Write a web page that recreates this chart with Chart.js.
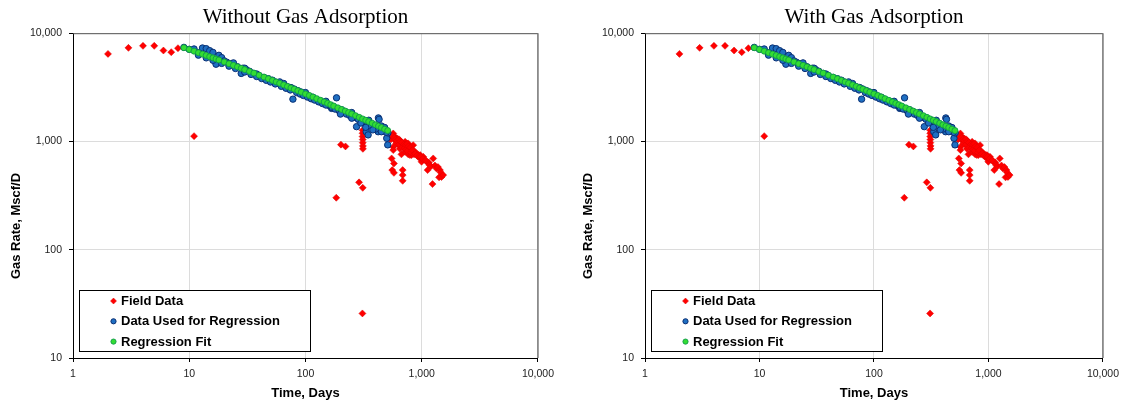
<!DOCTYPE html>
<html>
<head>
<meta charset="utf-8">
<script src="https://cdn.jsdelivr.net/npm/chart.js@4.4.1/dist/chart.umd.min.js"></script>
<style>
  body { margin: 0; background: #fff; width: 1125px; height: 403px; position: relative; overflow: hidden; }
  canvas { position: absolute; top: 0; }
  #left { left: 0; }
  #right { left: 572px; }
</style>
</head>
<body>
<canvas id="left" width="560" height="403"></canvas>
<canvas id="right" width="553" height="403"></canvas>
<script>
// axis setup
const tickValues = [1, 10, 100, 1000, 10000];
const xTitle = "Time, Days";
const yTitle = "Gas Rate, Mscf/D";

// field data (red diamonds), days and Mscf/D
const fieldDays = [2, 3, 4, 5, 6, 7, 8, 11,
  184, 202, 221, 289, 311, 309,
  310, 310, 310, 311, 311, 312, 312,
  509, 533, 540, 551, 558, 569, 569, 569, 577, 577, 589, 600, 612, 620, 629, 648, 648, 660, 669,
  686, 686, 686, 694, 694, 700, 720, 720, 742, 742, 760, 765, 765, 780, 792, 792, 818, 818, 845,
  850, 875, 900, 935, 935, 970, 970, 997, 1000, 1031, 1060, 1102, 1124, 1150, 1167, 1200, 1238,
  1256, 1300, 1339, 1380, 1410, 1435, 1450, 1480, 1530,
  525, 545, 560, 580, 595, 605, 615, 635, 640, 655, 675, 680, 705, 715, 730, 735, 750, 755, 770,
  800, 810, 830, 860, 880, 910, 960, 985, 1020, 1080];
const fieldRates = [6440, 7320, 7640, 7640, 6920, 6680, 7270, 1120,
  302, 935, 900, 419, 373, 25.8,
  1270, 1190, 1110, 1040, 975, 910, 855,
  1066, 1066, 1120, 697, 544, 1186, 891, 832, 627, 513, 1104, 1000, 1066, 950, 993, 1028, 857, 940, 760,
  544, 489, 433, 960, 891, 900, 993, 802, 891, 802, 870, 960, 760, 820, 832, 748, 857, 748, 925,
  790, 802, 780, 748, 721, 697, 748, 649, 700, 721, 680, 649, 544, 640, 605, 590, 404,
  697, 600, 564, 580, 466, 544, 520, 470, 489,
  1100, 1050, 1130, 1080, 1040, 960, 1020, 1050, 940, 1000, 980, 880, 940, 870, 930, 840, 950, 820, 900,
  880, 790, 830, 760, 770, 740, 730, 720, 690, 670];

// data used for regression (blue circles)
const regDays = [9, 10, 11, 12, 13, 14, 15, 16, 17, 18, 19, 20, 21, 22, 24, 26, 28, 29, 31, 33, 36, 38, 40,
  44, 48, 52, 56, 60, 65, 70, 75, 78, 80, 86, 92, 100, 108, 116, 125, 135, 145, 155, 160, 165, 168, 175,
  185, 190, 200, 205, 215, 220, 235, 245, 255, 265, 275, 280, 290, 300, 310, 320, 330, 333, 340, 346,
  355, 370, 385, 400, 415, 424, 430, 422, 440, 455, 470, 490, 500, 510, 512,
  12, 14, 16, 19, 22, 25, 30, 34, 38, 42, 46, 50, 55, 62, 68, 74, 84, 90, 96, 104, 112, 120, 130, 140,
  150, 170, 180, 195, 210, 225, 240, 260, 285, 305, 325, 345, 365, 390, 410, 435, 460, 475, 495,
  200, 250, 300, 350, 400, 450, 330, 380,
  30, 60, 100, 150, 250, 350, 450, 480];
const regRates = [7400, 7100, 7150, 6600, 7300, 7200, 6900, 6650, 5170, 6250, 5950, 5550, 5400, 5250, 5320, 4900, 4250, 4750, 4600, 4450, 4250, 4200, 4050,
  3900, 3800, 3680, 3520, 3420, 3430, 3200, 3150, 2460, 3050, 2950, 2860, 2720, 2620, 2560, 2440, 2360, 2250, 2200, 2150, 2100, 2020, 2080,
  2530, 2000, 1930, 1960, 1860, 1880, 1800, 1760, 1720, 1680, 1370, 1640, 1600, 1560, 1540, 1470, 1500, 1230, 1430, 1150,
  1440, 1400, 1380, 1370, 1330, 1650, 1600, 1230, 1300, 1290, 1260, 1230, 1070, 930, 1200,
  6270, 5920, 5620, 5260, 4960, 4720, 4380, 4160, 3980, 3810, 3670, 3540, 3400, 3230, 3100, 2990, 2830, 2740, 2660, 2570, 2480, 2410, 2320, 2240,
  2170, 2050, 1990, 1920, 1850, 1790, 1740, 1670, 1600, 1550, 1500, 1460, 1420, 1370, 1340, 1300, 1260, 1245, 1215,
  1790, 1640, 1480, 1390, 1300, 1230, 1350, 1280,
  4750, 3550, 2830, 2350, 1850, 1570, 1390, 1345];

// regression fit (green)
const fitDays = [9, 10, 11, 12, 13, 14, 15, 16, 17, 18, 20, 22, 24, 26, 28, 30, 33, 36, 40, 44, 48, 52, 56, 60,
  65, 70, 75, 80, 86, 92, 100, 108, 116, 125, 135, 145, 155, 165, 175, 190, 205, 220, 235, 250, 270, 290,
  310, 330, 350, 375, 400, 425, 450, 480, 510];
const fitRates = [7350, 7070, 6825, 6600, 6410, 6230, 6070, 5920, 5780, 5655, 5430, 5225, 5045, 4890, 4740, 4610, 4435, 4280, 4095, 3935, 3795, 3665, 3550, 3445,
  3330, 3225, 3125, 3040, 2945, 2855, 2750, 2660, 2575, 2485, 2400, 2320, 2250, 2185, 2125, 2045, 1975, 1910, 1850, 1795, 1730, 1670,
  1615, 1570, 1525, 1475, 1425, 1385, 1345, 1300, 1260];

function toPoints(xs, ys) {
  return xs.map((x, i) => ({ x: x, y: ys[i] }));
}

// frame lines, rotated y title and the boxed legend
const extras = {
  id: "extras",
  afterDraw(chart) {
    const ctx = chart.ctx;
    const a = chart.chartArea;
    ctx.save();
    ctx.strokeStyle = "#555";
    ctx.lineWidth = 1;
    ctx.beginPath();
    ctx.moveTo(a.left, a.top + 0.5);
    ctx.lineTo(a.right, a.top + 0.5);
    ctx.stroke();
    ctx.strokeStyle = "#777";
    ctx.lineWidth = 1.5;
    ctx.beginPath();
    ctx.moveTo(a.right, a.top);
    ctx.lineTo(a.right, a.bottom);
    ctx.stroke();

    ctx.save();
    ctx.translate(16, 226);
    ctx.rotate(-Math.PI / 2);
    ctx.font = "bold 13px 'Liberation Sans'";
    ctx.fillStyle = "#000";
    ctx.textAlign = "center";
    ctx.textBaseline = "middle";
    ctx.fillText(yTitle, 0, 0);
    ctx.restore();

    const lx = Math.round(a.left + 6) + 0.5;
    const ly = Math.round(a.bottom - 68) + 0.5;
    const lw = 231, lh = 61;
    ctx.fillStyle = "#fff";
    ctx.fillRect(lx, ly, lw, lh);
    ctx.strokeStyle = "#000";
    ctx.lineWidth = 1;
    ctx.strokeRect(lx, ly, lw, lh);

    chart.data.datasets.forEach((ds, i) => {
      const cx = lx + 34;
      const cy = ly + 10.5 + i * 20.3;
      ctx.fillStyle = ds.backgroundColor;
      ctx.strokeStyle = ds.borderColor;
      ctx.lineWidth = ds.borderWidth;
      ctx.beginPath();
      if (ds.pointStyle === "rectRot") {
        ctx.moveTo(cx, cy - 3);
        ctx.lineTo(cx + 3, cy);
        ctx.lineTo(cx, cy + 3);
        ctx.lineTo(cx - 3, cy);
        ctx.closePath();
      } else {
        ctx.arc(cx, cy, 2.6, 0, Math.PI * 2);
      }
      ctx.fill();
      ctx.stroke();
      ctx.fillStyle = "#000";
      ctx.font = "bold 13px 'Liberation Sans'";
      ctx.textAlign = "left";
      ctx.textBaseline = "middle";
      ctx.fillText(ds.label, lx + 41.5, cy + 0.5);
    });
    ctx.restore();
  }
};

function makeChart(id, title, padRight) {
  return new Chart(document.getElementById(id), {
    type: "scatter",
    data: {
      datasets: [
        {
          label: "Field Data",
          data: toPoints(fieldDays, fieldRates),
          pointStyle: "rectRot",
          pointRadius: 3.5,
          backgroundColor: "#ff0000",
          borderColor: "#e00000",
          borderWidth: 0.5,
          order: 2
        },
        {
          label: "Data Used for Regression",
          data: toPoints(regDays, regRates),
          pointStyle: "circle",
          pointRadius: 3.2,
          backgroundColor: "#1f6fc2",
          borderColor: "#0a2f73",
          borderWidth: 1,
          order: 1
        },
        {
          label: "Regression Fit",
          data: toPoints(fitDays, fitRates),
          pointStyle: "circle",
          pointRadius: 3,
          backgroundColor: "#33dd33",
          borderColor: "#109a4a",
          borderWidth: 0.9,
          order: 0
        }
      ]
    },
    options: {
      responsive: false,
      animation: false,
      layout: { padding: { left: 0, right: padRight, top: 0, bottom: 0 } },
      plugins: {
        legend: { display: false },
        tooltip: { enabled: false },
        title: {
          display: true,
          text: title,
          fullSize: false,
          color: "#000",
          font: { family: "'Liberation Serif'", size: 21, weight: "normal" },
          padding: { top: 5, bottom: 3 }
        }
      },
      scales: {
        x: {
          type: "logarithmic",
          min: 1,
          max: 10000,
          afterBuildTicks: s => { s.ticks = tickValues.map(v => ({ value: v })); },
          afterFit: s => { s.height = 45; },
          ticks: {
            callback: v => v.toLocaleString("en-US"),
            font: { family: "'Liberation Sans'", size: 10.5 },
            color: "#222",
            padding: 6,
            maxRotation: 0,
            autoSkip: false
          },
          grid: { color: "#dcdcdc", tickColor: "#000", tickLength: 4 },
          border: { color: "#000", width: 1 },
          title: {
            display: true,
            text: xTitle,
            color: "#000",
            font: { family: "'Liberation Sans'", size: 13, weight: "bold" },
            padding: { top: 0, bottom: 2 }
          }
        },
        y: {
          type: "logarithmic",
          min: 10,
          max: 10000,
          afterBuildTicks: s => { s.ticks = tickValues.slice(1).map(v => ({ value: v })); },
          afterFit: s => { s.width = 73; },
          ticks: {
            callback: v => v.toLocaleString("en-US"),
            font: { family: "'Liberation Sans'", size: 10.5 },
            color: "#222",
            padding: 7,
            autoSkip: false
          },
          grid: { color: "#dcdcdc", tickColor: "#000", tickLength: 4 },
          border: { color: "#000", width: 1 }
        }
      }
    },
    plugins: [extras]
  });
}

makeChart("left", "Without Gas Adsorption", 22);
makeChart("right", "With Gas Adsorption", 18);
</script>
</body>
</html>
